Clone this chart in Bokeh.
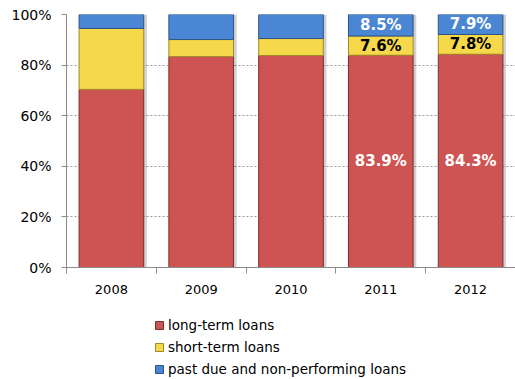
from bokeh.plotting import figure
from bokeh.layouts import column
from bokeh.models import ColumnDataSource, Legend, LegendItem, FixedTicker, NumeralTickFormatter
from bokeh.core.properties import value
from bokeh.transform import dodge
from bokeh.embed import file_html
from bokeh.resources import INLINE

years = ["2008", "2009", "2010", "2011", "2012"]
long_term = [70.4, 83.4, 83.8, 83.9, 84.3]
short_term = [24.1, 6.7, 6.7, 7.6, 7.8]
past_due = [5.5, 9.9, 9.5, 8.5, 7.9]
labeled_years = ["2011", "2012"]
series_names = ["long-term loans", "short-term loans", "past due and non-performing loans"]
y_ticks = [0, 0.2, 0.4, 0.6, 0.8, 1.0]

FONT = "DejaVu Sans"
COLORS = ["#CD5452", "#F6D94A", "#4A86D4"]
EDGES = ["#7A2E2C", "#A08A2A", "#2C5488"]

x = [i + 0.5 for i in range(len(years))]
lt = [v / 100 for v in long_term]
st = [v / 100 for v in short_term]
pd_ = [v / 100 for v in past_due]
b1 = lt
b2 = [a + b for a, b in zip(lt, st)]
b3 = [a + b for a, b in zip(b2, pd_)]

src = ColumnDataSource(dict(x=x, lt=lt, b1=b1, b2=b2, b3=b3))

p = figure(width=515, height=307, x_range=(0, len(years)), y_range=(0, 1),
           output_backend="svg", toolbar_location=None,
           min_border_left=66, min_border_top=14, min_border_right=0, min_border_bottom=40)
p.outline_line_color = None
p.background_fill_color = "white"

W = 0.72
# soft drop shadow
p.vbar(x=dodge("x", 0.035), bottom=0, top="b3", width=W, source=src,
       fill_color="#000000", fill_alpha=0.18, line_color=None)
p.vbar(x="x", bottom=0, top="b1", width=W, source=src, fill_color=COLORS[0], line_color=EDGES[0], line_width=1)
p.vbar(x="x", bottom="b1", top="b2", width=W, source=src, fill_color=COLORS[1], line_color=EDGES[1], line_width=1)
p.vbar(x="x", bottom="b2", top="b3", width=W, source=src, fill_color=COLORS[2], line_color=EDGES[2], line_width=1)

# labels
lx, ly, lt_txt, lc = [], [], [], []
for i, yr in enumerate(years):
    if yr in labeled_years:
        lx += [x[i]] * 3
        ly += [lt[i] / 2, (b1[i] + b2[i]) / 2, (b2[i] + b3[i]) / 2]
        lt_txt += [f"{long_term[i]:.1f}%", f"{short_term[i]:.1f}%", f"{past_due[i]:.1f}%"]
        lc += ["white", "black", "white"]
p.text(x=lx, y=ly, text=lt_txt, text_color=lc, text_align="center", text_baseline="middle",
       text_font=value(FONT), text_font_style="bold", text_font_size="15px")

p.xgrid.grid_line_color = None
p.ygrid.grid_line_color = "#9A9A9A"
p.ygrid.grid_line_dash = "2 2"
p.ygrid.ticker = FixedTicker(ticks=y_ticks)

p.yaxis.ticker = FixedTicker(ticks=y_ticks)
p.yaxis.formatter = NumeralTickFormatter(format="0%")
p.yaxis.major_tick_in = 0
p.yaxis.major_tick_out = 5
p.yaxis.minor_tick_out = 0
p.yaxis.minor_tick_in = 0
p.yaxis.major_label_standoff = 10
p.yaxis.major_label_text_font_size = "14px"

p.xaxis.ticker = FixedTicker(ticks=x, minor_ticks=list(range(0, len(years) + 1)))
p.xaxis.major_label_overrides = {xx: yr for xx, yr in zip(x, years)}
p.xaxis.major_tick_in = 0
p.xaxis.major_tick_out = 0
p.xaxis.minor_tick_in = 0
p.xaxis.minor_tick_out = 6
p.xaxis.major_label_standoff = 11
p.xaxis.major_label_text_font_size = "13px"

for ax in (p.xaxis, p.yaxis):
    ax.axis_line_color = "#8C8C8C"
    ax.major_tick_line_color = "#8C8C8C"
    ax.minor_tick_line_color = "#8C8C8C"
    ax.major_label_text_font = FONT
    ax.major_label_text_color = "black"

# legend panel below the chart (proxy renderers sit outside the visible range)
p2 = figure(width=515, height=72, x_range=(0, 1), y_range=(0, 1),
            output_backend="svg", toolbar_location=None,
            x_axis_location=None, y_axis_location=None,
            min_border_left=66, min_border_right=0, min_border_top=0, min_border_bottom=0)
p2.outline_line_color = None
p2.xgrid.grid_line_color = None
p2.ygrid.grid_line_color = None
items = []
for name, c, e in zip(series_names, COLORS, EDGES):
    r = p2.vbar(x=[-5], top=[-5], width=0.1, fill_color=c, line_color=e)
    items.append(LegendItem(label=name, renderers=[r]))
legend = Legend(items=items, location=(88, 0), orientation="vertical")
legend.border_line_color = None
legend.background_fill_alpha = 0
legend.label_text_font = FONT
legend.label_text_font_size = "13.5px"
legend.label_text_color = "black"
legend.glyph_width = 10
legend.glyph_height = 10
legend.label_height = 20
legend.spacing = 2
legend.padding = 0
legend.margin = 0
legend.label_standoff = 4
p2.add_layout(legend, "center")

layout = column(p, p2, spacing=0)
open("out.html", "w").write(file_html(layout, INLINE))
